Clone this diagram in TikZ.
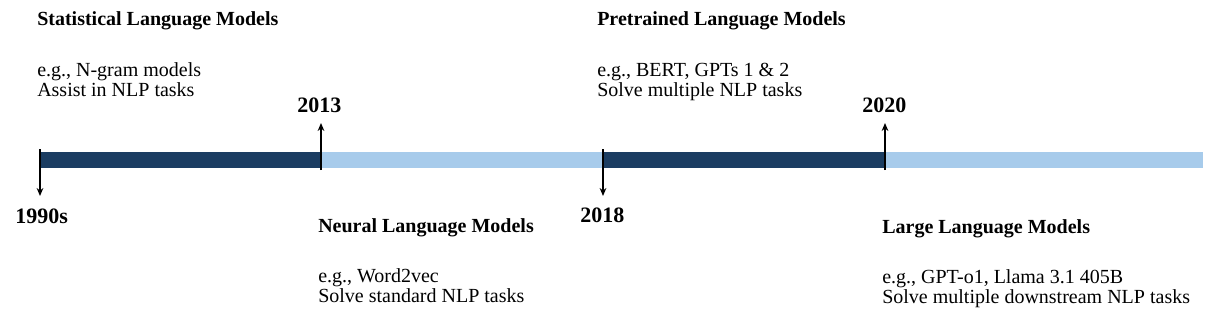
\documentclass[tikz,border=0pt]{standalone}
\usepackage{fontspec}
\setmainfont{Liberation Serif}
\usetikzlibrary{arrows.meta, positioning}
\definecolor{bardark}{HTML}{1B3D62}
\definecolor{barlight}{HTML}{A7CBEB}

\begin{document}
\begin{tikzpicture}[x=0.75pt, y=-0.75pt,
  era/.style={anchor=base west, inner sep=0pt, font=\bfseries\fontsize{15}{18}\selectfont},
  note/.style={anchor=base west, inner sep=0pt, font=\fontsize{15}{18}\selectfont},
  year/.style={anchor=base west, inner sep=0pt, font=\bfseries\fontsize{16.5}{20}\selectfont},
  seg/.style={line width=12pt},
  tick/.style={-{Stealth[length=6pt, width=5pt]}, line width=1.1pt}]
  \useasboundingbox (0,0) rectangle (1212,321);
  % timeline bar
  \draw[seg, bardark]  (40,160)  -- (321,160);
  \draw[seg, barlight] (321,160) -- (603,160);
  \draw[seg, bardark]  (603,160) -- (885,160);
  \draw[seg, barlight] (885,160) -- (1203,160);
  % ticks
  \coordinate (t1) at (40,149);   \coordinate (h1) at (40,196);
  \coordinate (t2) at (321,170);  \coordinate (h2) at (321,123);
  \coordinate (t3) at (603,149);  \coordinate (h3) at (603,196);
  \coordinate (t4) at (885,170);  \coordinate (h4) at (885,123);
  \draw[tick] (t1) -- (h1);
  \draw[tick] (t2) -- (h2);
  \draw[tick] (t3) -- (h3);
  \draw[tick] (t4) -- (h4);
  % years
  \node[year] (y1990) at (15,223)  {1990s};
  \node[year] (y2013) at (297,112) {2013};
  \node[year] (y2018) at (580,222) {2018};
  \node[year] (y2020) at (862,112) {2020};
  % eras
  \node[era]  (slm)  at (37,26)   {Statistical Language Models};
  \node[note] (slm1) at (37,76)   {e.g., N-gram models};
  \node[note] (slm2) at (37,96)   {Assist in NLP tasks};
  \node[era]  (nlm)  at (318,232) {Neural Language Models};
  \node[note] (nlm1) at (318,282) {e.g., Word2vec};
  \node[note] (nlm2) at (318,302) {Solve standard NLP tasks};
  \node[era]  (plm)  at (597,26)  {Pretrained Language Models};
  \node[note] (plm1) at (597,76)  {e.g., BERT, GPTs 1 \& 2};
  \node[note] (plm2) at (597,96)  {Solve multiple NLP tasks};
  \node[era]  (llm)  at (882,233) {Large Language Models};
  \node[note] (llm1) at (882,283) {e.g., GPT-o1, Llama 3.1 405B};
  \node[note] (llm2) at (882,303) {Solve multiple downstream NLP tasks};
\end{tikzpicture}
\end{document}
